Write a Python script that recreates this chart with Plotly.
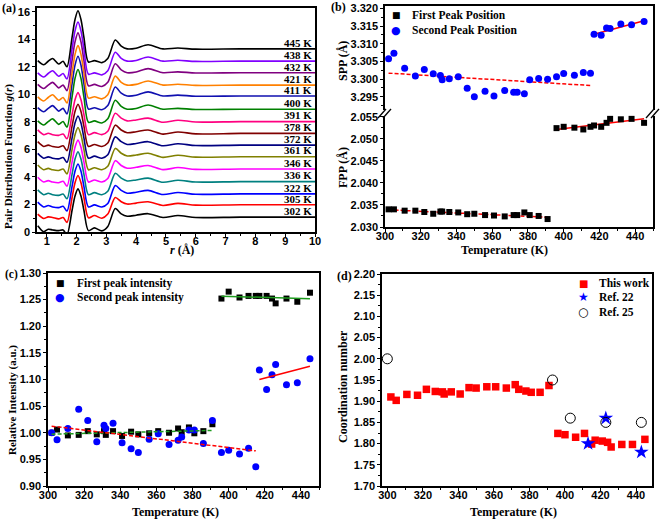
import plotly.graph_objects as go

W, H = 660, 520
SERIF = "Liberation Serif"
SANS = "Liberation Sans"

# ---- panel (a): g(r) curves ----
r_grid = [0.7, 0.9, 1.05, 1.2, 1.4, 1.55, 1.68, 1.85, 1.95, 2.05, 2.15, 2.25, 2.4,
          2.6, 2.85, 3.05, 3.3, 3.5, 3.7, 4.0, 4.4, 4.9, 5.4, 6.0, 7.5, 10.0]
g_302 = [0.45, 0.02, 0.2, 0.15, 0.1, 0.15, -0.2, 1.56, 2.62, 3.13, 2.62, 1.56, 0.1, 0.3, 0.08, 0.4, 1.7, 1.32, 1.15, 1.22, 1.33, 1.05, 1.2, 1.05, 1.08, 1.08]
g_305 = [1.3, 0.98, 1.1, 1.05, 0.95, 1.05, 0.7, 2.49, 3.58, 4.10, 3.58, 2.49, 1.03, 1.2, 1.0, 1.3, 2.5, 2.2, 2.03, 2.1, 2.2, 1.93, 2.08, 1.95, 1.98, 1.98]
g_322 = [2.17, 1.82, 1.92, 1.82, 1.77, 1.87, 1.52, 3.30, 4.41, 4.94, 4.41, 3.30, 1.82, 1.97, 1.82, 2.07, 3.37, 3.02, 2.82, 2.89, 3.02, 2.72, 2.87, 2.74, 2.77, 2.77]
g_336 = [3.06, 2.71, 2.81, 2.71, 2.66, 2.76, 2.41, 4.19, 5.30, 5.83, 5.30, 4.19, 2.71, 2.86, 2.71, 2.96, 4.26, 3.91, 3.71, 3.78, 3.91, 3.61, 3.76, 3.63, 3.66, 3.66]
g_346 = [3.98, 3.63, 3.73, 3.63, 3.58, 3.68, 3.33, 5.08, 6.16, 6.67, 6.16, 5.08, 3.63, 3.78, 3.63, 3.88, 5.18, 4.83, 4.63, 4.70, 4.83, 4.53, 4.68, 4.55, 4.58, 4.58]
g_361 = [4.87, 4.52, 4.62, 4.52, 4.47, 4.57, 4.22, 5.98, 7.07, 7.59, 7.07, 5.98, 4.52, 4.67, 4.52, 4.77, 6.07, 5.72, 5.52, 5.59, 5.72, 5.42, 5.57, 5.44, 5.47, 5.47]
g_372 = [5.71, 5.36, 5.46, 5.36, 5.31, 5.41, 5.06, 6.82, 7.91, 8.43, 7.91, 6.82, 5.36, 5.51, 5.36, 5.61, 6.91, 6.56, 6.36, 6.43, 6.56, 6.26, 6.41, 6.28, 6.31, 6.31]
g_378 = [6.56, 6.21, 6.31, 6.21, 6.16, 6.26, 5.91, 7.67, 8.76, 9.28, 8.76, 7.67, 6.21, 6.36, 6.21, 6.46, 7.76, 7.41, 7.21, 7.28, 7.41, 7.11, 7.26, 7.13, 7.16, 7.16]
g_391 = [7.42, 7.07, 7.17, 7.07, 7.02, 7.12, 6.77, 8.52, 9.61, 10.12, 9.61, 8.52, 7.07, 7.22, 7.07, 7.32, 8.62, 8.27, 8.07, 8.14, 8.27, 7.97, 8.12, 7.99, 8.02, 8.02]
g_400 = [8.07, 7.77, 8.02, 8.22, 7.82, 8.02, 7.62, 9.80, 11.16, 11.80, 11.16, 9.80, 7.97, 8.07, 7.92, 8.22, 9.57, 9.12, 8.92, 8.97, 9.22, 8.92, 8.98, 8.90, 8.92, 8.92]
g_411 = [9.03, 8.73, 8.98, 9.18, 8.78, 8.98, 8.58, 10.76, 12.12, 12.77, 12.12, 10.76, 8.93, 9.03, 8.88, 9.18, 10.53, 10.08, 9.88, 9.93, 10.18, 9.88, 9.94, 9.86, 9.88, 9.88]
g_421 = [9.82, 9.52, 9.77, 9.97, 9.57, 9.77, 9.37, 11.54, 12.90, 13.54, 12.90, 11.54, 9.72, 9.82, 9.67, 9.97, 11.32, 10.87, 10.67, 10.72, 10.97, 10.67, 10.73, 10.65, 10.67, 10.67]
g_432 = [10.72, 10.42, 10.67, 10.87, 10.47, 10.67, 10.27, 12.45, 13.81, 14.46, 13.81, 12.45, 10.62, 10.72, 10.57, 10.87, 12.22, 11.77, 11.57, 11.62, 11.87, 11.57, 11.63, 11.55, 11.57, 11.57]
g_438 = [11.56, 11.26, 11.51, 11.71, 11.31, 11.51, 11.11, 13.27, 14.61, 15.25, 14.61, 13.27, 11.46, 11.56, 11.41, 11.71, 13.06, 12.61, 12.41, 12.46, 12.71, 12.41, 12.47, 12.39, 12.41, 12.41]
g_445 = [12.45, 12.15, 12.40, 12.60, 12.20, 12.40, 12.00, 14.12, 15.44, 16.07, 15.44, 14.12, 12.35, 12.45, 12.30, 12.60, 13.95, 13.50, 13.30, 13.35, 13.60, 13.30, 13.36, 13.28, 13.30, 13.30]

gr_temps = [302, 305, 322, 336, 346, 361, 372, 378, 391, 400, 411, 421, 432, 438, 445]
gr_curves = [g_302, g_305, g_322, g_336, g_346, g_361, g_372, g_378, g_391,
             g_400, g_411, g_421, g_432, g_438, g_445]
gr_colors = ["#000000", "#FF0000", "#0000FF", "#008080", "#FF00FF", "#808000",
             "#000080", "#800000", "#FF0080", "#008000", "#1010B0", "#FF8000",
             "#800080", "#8000FF", "#000000"]

# ---- panels (b)-(d): temperature series ----
temps = [302, 305, 311, 317, 322, 327, 331, 332, 336, 341, 346, 350, 356, 361, 367,
         372, 374, 378, 381, 386, 391, 396, 400, 406, 411, 415, 417, 421, 424, 426,
         432, 438, 445]
fpp = [2.0340, 2.0340, 2.0337, 2.0337, 2.0334, 2.0330, 2.0335, 2.0335, 2.0334, 2.0333,
       2.0329, 2.0330, 2.0327, 2.0326, 2.0324, 2.0327, 2.0327, 2.0333, 2.0327, 2.0325,
       2.0318, 2.0524, 2.0527, 2.0525, 2.0521, 2.0527, 2.0530, 2.0527, 2.0536, 2.0545,
       2.0544, 2.0545, 2.0536]
spp = [3.3058, 3.3073, 3.3031, 3.3009, 3.3027, 3.3015, 3.3010, 3.2998, 3.3001, 3.3007,
       3.2974, 3.2950, 3.2966, 3.2952, 3.2968, 3.2963, 3.2963, 3.2959, 3.2998, 3.3002,
       3.3000, 3.3007, 3.3016, 3.3011, 3.3019, 3.3017, 3.3127, 3.3124, 3.3145, 3.3143,
       3.3156, 3.3154, 3.3163]
fpp_fit_lo_t, fpp_fit_lo = [302, 391], [2.0339, 2.0322]
fpp_fit_hi_t, fpp_fit_hi = [396, 445], [2.0521, 2.0545]
spp_fit_lo_t, spp_fit_lo = [302, 415], [3.3017, 3.2982]
spp_fit_hi_t, spp_fit_hi = [417, 445], [3.3127, 3.3165]

int1 = [1.000, 1.006, 0.995, 0.996, 1.003, 0.997, 1.003, 0.996, 1.003, 0.994, 1.002,
        0.997, 0.999, 1.003, 1.000, 1.008, 1.001, 1.010, 0.999, 1.003, 1.016, 1.252,
        1.265, 1.254, 1.257, 1.257, 1.257, 1.257, 1.252, 1.243, 1.252, 1.246, 1.263]
int2 = [1.000, 0.987, 1.008, 1.044, 1.023, 0.983, 1.014, 1.008, 1.018, 0.981, 0.970,
        0.963, 0.988, 0.998, 0.978, 0.986, 0.992, 1.005, 1.005, 0.980, 1.023, 0.963,
        0.967, 0.960, 0.971, 0.936, 1.118, 1.081, 1.109, 1.128, 1.090, 1.094, 1.139]
int1_fit_lo_t, int1_fit_lo = [302, 391], [0.9974, 1.0043]
int1_fit_hi_t, int1_fit_hi = [396, 445], [1.2565, 1.2517]
int2_fit_lo_t, int2_fit_lo = [302, 415], [1.0124, 0.9660]
int2_fit_hi_t, int2_fit_hi = [417, 445], [1.1000, 1.1250]

cn = [1.910, 1.902, 1.916, 1.914, 1.928, 1.923, 1.922, 1.917, 1.922, 1.917, 1.932,
      1.931, 1.934, 1.934, 1.931, 1.939, 1.928, 1.924, 1.921, 1.921, 1.937, 1.824,
      1.821, 1.815, 1.824, 1.799, 1.808, 1.806, 1.803, 1.792, 1.798, 1.798, 1.810]
ref22_t, ref22_cn = [413, 423, 443], [1.80, 1.86, 1.78]
ref25_t, ref25_cn = [300, 393, 403, 423, 443], [2.00, 1.95, 1.86, 1.85, 1.85]


def px(x):
    return x / W


def py(y):
    return 1 - y / H


fig = go.Figure()

# (a)
for t, g, c in zip(gr_temps, gr_curves, gr_colors):
    fig.add_trace(go.Scatter(x=r_grid, y=g, mode="lines", xaxis="x", yaxis="y",
                             line=dict(color=c, width=1.6, shape="spline", smoothing=0.8),
                             showlegend=False))

RED, BLUE, GREEN = "#FF0000", "#0000FF", "#1E9B1E"
DASH = "4px,2px"


def fit(x, y, color, dash, xa, ya):
    fig.add_trace(go.Scatter(x=x, y=y, mode="lines", xaxis=xa, yaxis=ya, showlegend=False,
                             line=dict(color=color, width=1.5, dash=dash)))


# (b) bottom: FPP, top: SPP
fit(fpp_fit_lo_t, fpp_fit_lo, RED, DASH, "x2", "y2")
fit(fpp_fit_hi_t, fpp_fit_hi, RED, "solid", "x2", "y2")
fig.add_trace(go.Scatter(x=temps, y=fpp, mode="markers", xaxis="x2", yaxis="y2", showlegend=False,
                         marker=dict(symbol="square", size=6, color="black")))
fit(spp_fit_lo_t, spp_fit_lo, RED, DASH, "x3", "y3")
fit(spp_fit_hi_t, spp_fit_hi, RED, "solid", "x3", "y3")
fig.add_trace(go.Scatter(x=temps, y=spp, mode="markers", xaxis="x3", yaxis="y3", showlegend=False,
                         marker=dict(symbol="circle", size=7, color=BLUE)))

# (c)
fig.add_trace(go.Scatter(x=temps, y=int1, mode="markers", xaxis="x4", yaxis="y4", showlegend=False,
                         marker=dict(symbol="square", size=6, color="black")))
fig.add_trace(go.Scatter(x=temps, y=int2, mode="markers", xaxis="x4", yaxis="y4", showlegend=False,
                         marker=dict(symbol="circle", size=7, color=BLUE)))
fit(int1_fit_lo_t, int1_fit_lo, GREEN, DASH, "x4", "y4")
fit(int1_fit_hi_t, int1_fit_hi, GREEN, "solid", "x4", "y4")
fit(int2_fit_lo_t, int2_fit_lo, RED, DASH, "x4", "y4")
fit(int2_fit_hi_t, int2_fit_hi, RED, "solid", "x4", "y4")

# (d)
fig.add_trace(go.Scatter(x=temps, y=cn, mode="markers", xaxis="x5", yaxis="y5", showlegend=False,
                         marker=dict(symbol="square", size=7.5, color=RED)))
fig.add_trace(go.Scatter(x=ref22_t, y=ref22_cn, mode="markers", xaxis="x5", yaxis="y5", showlegend=False,
                         marker=dict(symbol="star", size=11, color=BLUE)))
fig.add_trace(go.Scatter(x=ref25_t, y=ref25_cn, mode="markers", xaxis="x5", yaxis="y5", showlegend=False,
                         marker=dict(symbol="circle-open", size=10, color="black", line=dict(width=1))))

tickfont = dict(family=SANS, size=11, color="black", weight="bold")


def ax(domain, rng, dtick, mstep, anchor, fmt=None, tick0=None, mirror=True, **kw):
    d = dict(domain=domain, range=rng, dtick=dtick, anchor=anchor, showline=True,
             linecolor="black", linewidth=1.5, mirror=mirror, ticks="outside", ticklen=3,
             tickwidth=1.2, tickcolor="black", showgrid=False, zeroline=False,
             automargin=False, tickfont=tickfont,
             minor=dict(dtick=mstep, ticks="outside", ticklen=2, tickwidth=1,
                        tickcolor="black"))
    if fmt:
        d["tickformat"] = fmt
    if tick0 is not None:
        d["tick0"] = tick0
    d.update(kw)
    return d


XOFF = dict(ticklabelstandoff=-5)

fig.update_layout(
    template="none",
    width=W, height=H, margin=dict(l=0, r=0, t=0, b=0, pad=0),
    paper_bgcolor="white", plot_bgcolor="white", showlegend=False,
    xaxis=ax([px(37), px(315)], [0.675, 10], 1, 0.5, "y", tick0=0, **XOFF),
    yaxis=ax([py(232), py(8)], [0, 16.27], 2, 1, "x", tick0=0),
    xaxis2=ax([px(385), px(653)], [300, 450], 20, 10, "y2", mirror=False, **XOFF),
    yaxis2=ax([py(227), py(114)], [2.030, 2.0556], 0.005, 0.0025, "x2", fmt=".3f", tick0=2.030),
    xaxis3=ax([px(385), px(653)], [300, 450], 20, 10, "y3", mirror=False, side="top",
              ticks="", showticklabels=False, minor=dict(ticks="")),
    yaxis3=ax([py(112), py(6)], [3.2907, 3.3207], 0.005, 0.0025, "x3", fmt=".3f", tick0=3.295),
    xaxis4=ax([px(48), px(319)], [300, 450], 20, 10, "y4", **XOFF),
    yaxis4=ax([py(486), py(273)], [0.90, 1.30], 0.05, 0.025, "x4", fmt=".2f", tick0=0.9),
    xaxis5=ax([px(382), px(652)], [297, 449], 20, 10, "y5", **XOFF),
    yaxis5=ax([py(486), py(274)], [1.70, 2.20], 0.05, 0.025, "x5", fmt=".2f", tick0=1.7),
)

ann = []


def text(x, y, s, size=12, angle=0, xanchor="center", family=SERIF, color="black", bold=True):
    ann.append(dict(x=px(x), y=py(y), xref="paper", yref="paper", text=s, showarrow=False,
                    textangle=angle, xanchor=xanchor, yanchor="middle",
                    font=dict(family=family, size=size, color=color,
                              weight="bold" if bold else "normal")))


# curve labels in (a)
for t, g in zip(gr_temps, gr_curves):
    ann.append(dict(x=9.95, y=g[-1] + 0.45, xref="x", yref="y", text=f"{t} K", showarrow=False,
                    xanchor="right", yanchor="middle",
                    font=dict(family=SERIF, size=11, color="black", weight="bold")))

# panel letters
text(9, 8, "(a)", 12)
text(338, 7, "(b)", 12)
text(11, 274, "(c)", 11.5)
text(344, 276, "(d)", 12)

# axis titles
text(8, 157, "Pair Distribution Function <i>g</i>(<i>r</i>)", 11, -90)
text(182, 250, "<i>r</i> (Å)", 12)
text(343, 61, "SPP (Å)", 12, -90)
text(343, 168, "FPP (Å)", 12, -90)
text(504, 250, "Temperature (K)", 12)
text(12, 400, "Relative Intensity (a.u.)", 11, -90)
text(175, 512, "Temperature (K)", 12)
text(343, 387, "Coordination number", 12, -90)
text(513, 512, "Temperature (K)", 12)

# legends
text(396, 15, "■", 9, family="DejaVu Sans", bold=False)
text(396, 30, "●", 11, family="DejaVu Sans", color=BLUE, bold=False)
text(410, 15, "First Peak Position", 11.5, xanchor="left")
text(410, 30, "Second Peak Position", 11.5, xanchor="left")

text(60, 283, "■", 9, family="DejaVu Sans", bold=False)
text(60, 297, "●", 11, family="DejaVu Sans", color=BLUE, bold=False)
text(75, 283, "First peak intensity", 11.5, xanchor="left")
text(75, 297, "Second peak intensity", 11.5, xanchor="left")

text(583, 283, "■", 10, family="DejaVu Sans", color=RED, bold=False)
text(583, 297, "★", 12, family="DejaVu Sans", color=BLUE, bold=False)
text(583, 312, "○", 12, family="DejaVu Sans", bold=False)
text(597, 283, "This work", 11.5, xanchor="left")
text(597, 297, "Ref. 22", 11.5, xanchor="left")
text(597, 312, "Ref. 25", 11.5, xanchor="left")

fig.update_layout(annotations=ann)

# axis break marks for (b)
shapes = []
for xb in (385, 653):
    shapes.append(dict(type="rect", xref="paper", yref="paper", x0=px(xb - 3), x1=px(xb + 3),
                       y0=py(116), y1=py(110), fillcolor="white", line=dict(width=0)))
    for dx in (-3, 2):
        shapes.append(dict(type="line", xref="paper", yref="paper",
                           x0=px(xb + dx - 4), y0=py(118), x1=px(xb + dx + 4), y1=py(109),
                           line=dict(color="black", width=1.3)))
fig.update_layout(shapes=shapes)

# the page body has a default 8px margin; drop it so the figure sits at (0, 0)
fig.write_html("out.html", config={"displayModeBar": False},
               post_script="document.body.style.margin='0';")
